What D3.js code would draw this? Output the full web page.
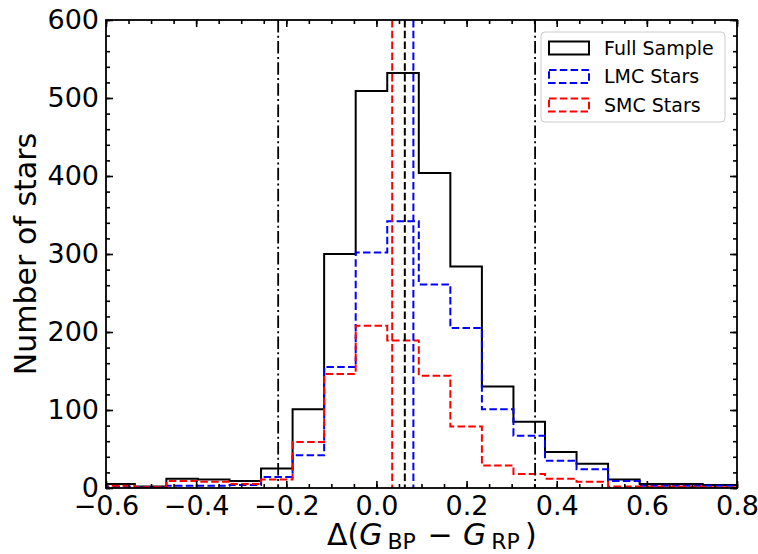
<!DOCTYPE html>
<html>
<head>
<meta charset="utf-8">
<script src="https://cdnjs.cloudflare.com/ajax/libs/d3/7.8.5/d3.min.js"></script>
<style>
  body { margin: 0; background: #fff; }
  text { font-family: "DejaVu Sans", sans-serif; fill: #000; }
</style>
</head>
<body>
<div id="chart"></div>
<script>
// histogram bins (edges) and counts
const binEdges = [-0.606, -0.536, -0.466, -0.396, -0.326, -0.256, -0.186, -0.116, -0.046, 0.024, 0.094,
                  0.164, 0.234, 0.304, 0.374, 0.444, 0.514, 0.584, 0.654, 0.724, 0.794, 0.864];
const fullCounts = [5, 2, 12, 11, 9, 25, 101, 300, 509, 532, 404, 284, 130, 85, 46, 31, 11, 5, 5, 4, 4];
const lmcCounts  = [2, 1, 3, 3, 4, 14, 42, 155, 302, 342, 261, 205, 101, 67, 35, 24, 9, 3, 3, 3, 3];
const smcCounts  = [3, 1, 9, 8, 5, 11, 59, 146, 208, 189, 144, 79, 29, 18, 12, 8, 2, 2, 2, 1, 1];

// mean values and the clipping limits
const meanValues = [0.063, 0.082, 0.035];
const meanColors = ["black", "#0000ff", "#ff0000"];
const limitValues = [-0.218, 0.352];

const xTicks = [-0.6, -0.4, -0.2, 0.0, 0.2, 0.4, 0.6, 0.8];
const yTicks = [0, 100, 200, 300, 400, 500, 600];
const legendLabels = ["Full Sample", "LMC Stars", "SMC Stars"];

let width = 758,
    height = 554;
let margin = {left: 106, right: 21, top: 20, bottom: 66};
let pw = width - margin.left - margin.right,
    ph = height - margin.top - margin.bottom;

let svg = d3.select("div#chart").append("svg")
            .attr("width", width)
            .attr("height", height);

let x = d3.scaleLinear().domain([-0.6, 0.8]).range([0, pw]);
let y = d3.scaleLinear().domain([0, 600]).range([ph, 0]);

let g = svg.append("g").attr("transform", "translate(" + margin.left + "," + margin.top + ")");

g.append("defs").append("clipPath").attr("id", "plotclip")
  .append("rect").attr("width", pw).attr("height", ph);

let plot = g.append("g").attr("clip-path", "url(#plotclip)");

// step outline like histtype='step'
function stepPoints(counts) {
  let pts = [[binEdges[0], 0]];
  for (let i = 0; i < counts.length; i++) {
    pts.push([binEdges[i], counts[i]]);
    pts.push([binEdges[i + 1], counts[i]]);
  }
  pts.push([binEdges[binEdges.length - 1], 0]);
  return pts;
}
let line = d3.line().x(d => x(d[0])).y(d => y(d[1]));

let series = [
  {counts: fullCounts, color: "black", dash: null},
  {counts: lmcCounts, color: "#0000ff", dash: "7.5,3.3"},
  {counts: smcCounts, color: "#ff0000", dash: "7.5,3.3"}
];

plot.selectAll("path.hist")
  .data(series)
  .enter().append("path")
  .attr("class", "hist")
  .attr("d", d => line(stepPoints(d.counts)))
  .attr("fill", "none")
  .attr("stroke", d => d.color)
  .attr("stroke-width", 2)
  .attr("stroke-dasharray", d => d.dash);

// mean lines
plot.selectAll("line.mean")
  .data(meanValues)
  .enter().append("line")
  .attr("class", "mean")
  .attr("x1", d => x(d)).attr("x2", d => x(d))
  .attr("y1", 0).attr("y2", ph)
  .attr("stroke", (d, i) => meanColors[i])
  .attr("stroke-width", 2)
  .attr("stroke-dasharray", "7.5,3.3");

// limit lines (dash-dot)
plot.selectAll("line.limit")
  .data(limitValues)
  .enter().append("line")
  .attr("class", "limit")
  .attr("x1", d => x(d)).attr("x2", d => x(d))
  .attr("y1", 0).attr("y2", ph)
  .attr("stroke", "black")
  .attr("stroke-width", 1.8)
  .attr("stroke-dasharray", "12.5,3.3,2,3.3");

// axes, ticks pointing in on all four sides
let minorX = d3.range(-0.6, 0.8001, 0.05);
let minorY = d3.range(0, 601, 20);

function styleAxis(sel) {
  sel.select(".domain").remove();
  sel.selectAll(".tick line").attr("stroke", "black").attr("stroke-width", 1.6);
  sel.selectAll("text").style("font-size", "27px").style("font-family", "DejaVu Sans");
}

g.append("g").attr("transform", "translate(0," + ph + ")")
  .call(d3.axisBottom(x).tickValues(minorX).tickSize(-4).tickFormat(""))
  .call(styleAxis);
g.append("g").attr("transform", "translate(0," + ph + ")")
  .call(d3.axisBottom(x).tickValues(xTicks).tickSize(-7).tickPadding(8).tickFormat(d3.format(".1f")))
  .call(styleAxis);
g.append("g")
  .call(d3.axisTop(x).tickValues(minorX).tickSize(-4).tickFormat(""))
  .call(styleAxis);
g.append("g")
  .call(d3.axisTop(x).tickValues(xTicks).tickSize(-7).tickFormat(""))
  .call(styleAxis);

g.append("g")
  .call(d3.axisLeft(y).tickValues(minorY).tickSize(-4).tickFormat(""))
  .call(styleAxis);
g.append("g")
  .call(d3.axisLeft(y).tickValues(yTicks).tickSize(-7).tickPadding(7).tickFormat(d3.format("d")))
  .call(styleAxis);
g.append("g").attr("transform", "translate(" + pw + ",0)")
  .call(d3.axisRight(y).tickValues(minorY).tickSize(-4).tickFormat(""))
  .call(styleAxis);
g.append("g").attr("transform", "translate(" + pw + ",0)")
  .call(d3.axisRight(y).tickValues(yTicks).tickSize(-7).tickFormat(""))
  .call(styleAxis);

// frame
g.append("rect")
  .attr("width", pw).attr("height", ph)
  .attr("fill", "none")
  .attr("stroke", "black")
  .attr("stroke-width", 1.8);

// axis labels
svg.append("text")
  .attr("transform", "translate(36," + (margin.top + ph / 2) + ") rotate(-90)")
  .attr("text-anchor", "middle")
  .style("font-size", "30px")
  .text("Number of stars");

let xl = svg.append("text")
  .attr("x", 327)
  .attr("y", 545)
  .attr("text-anchor", "start")
  .style("font-size", "30px");
xl.append("tspan").text("Δ(");
xl.append("tspan").style("font-style", "italic").text("G");
xl.append("tspan").style("font-size", "22px").attr("dx", 5).attr("dy", 4).text("BP");
xl.append("tspan").attr("dx", 2).attr("dy", -4).text(" − ");
xl.append("tspan").attr("dx", 1).style("font-style", "italic").text("G");
xl.append("tspan").style("font-size", "22px").attr("dx", 5).attr("dy", 4).text("RP");
xl.append("tspan").attr("dx", 5).attr("dy", -4).text(")");

//Make legend
let Lposition = [541, 32]; //[x, y]
let Lsize = [184, 90];
let legend = svg.append("g");
legend.append("rect")
  .attr("x", Lposition[0]).attr("y", Lposition[1])
  .attr("width", Lsize[0]).attr("height", Lsize[1])
  .attr("rx", 4)
  .attr("fill", "white").attr("fill-opacity", 0.8)
  .attr("stroke", "#cccccc").attr("stroke-width", 1);

let items = legend.selectAll("g.item")
  .data(series)
  .enter().append("g")
  .attr("class", "item")
  .attr("transform", (d, i) => "translate(" + (Lposition[0] + 8) + "," + (Lposition[1] + 16 + i * 28.5) + ")");
items.append("rect")
  .attr("x", 0).attr("y", -6.5)
  .attr("width", 40).attr("height", 13)
  .attr("fill", "none")
  .attr("stroke", d => d.color)
  .attr("stroke-width", 2)
  .attr("stroke-dasharray", d => d.dash);
items.append("text")
  .attr("x", 55).attr("y", 0)
  .attr("dy", "0.36em")
  .style("font-size", "19px")
  .text((d, i) => legendLabels[i]);
</script>
</body>
</html>
